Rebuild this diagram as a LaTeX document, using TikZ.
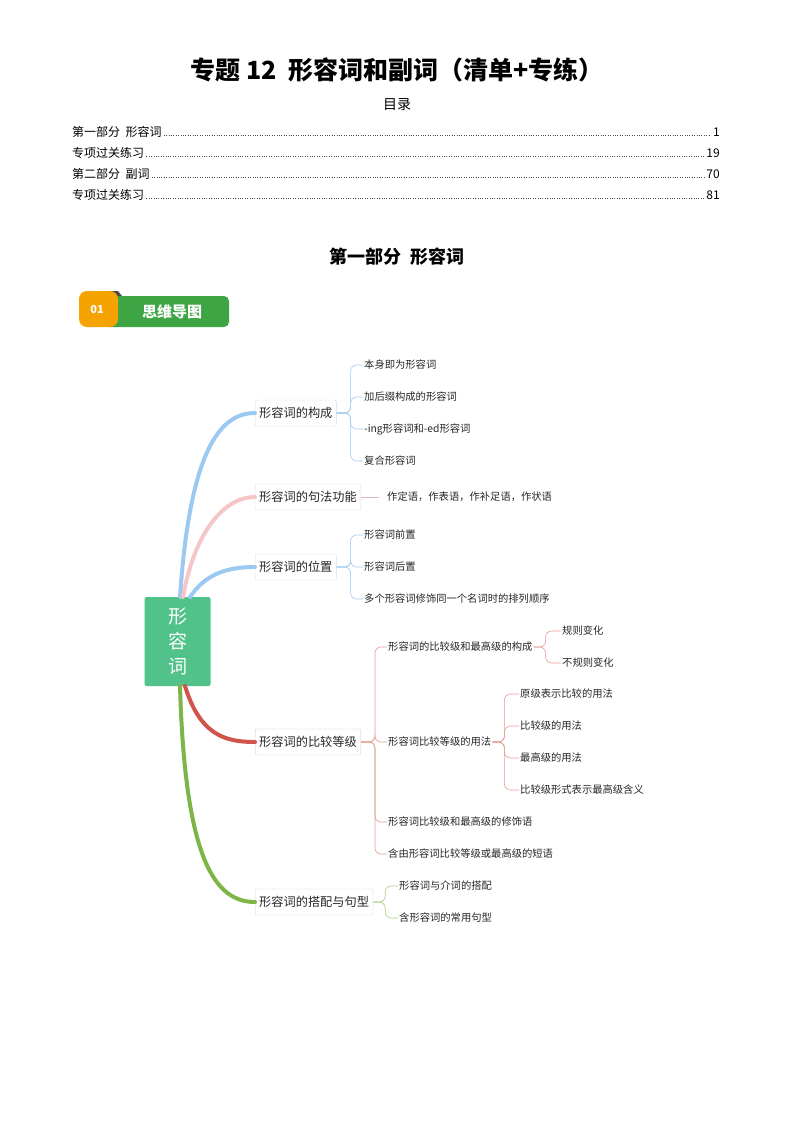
\documentclass[tikz,border=0pt]{standalone}
\usepackage{fontspec}
\setmainfont{Noto Sans CJK SC}
\usetikzlibrary{calc}
\definecolor{rootg}{HTML}{52C28B}
\definecolor{cb}{HTML}{9CC9F2}
\definecolor{cp}{HTML}{F5C6C6}
\definecolor{cr}{HTML}{D0544A}
\definecolor{cg}{HTML}{7DB548}
\definecolor{badgeg}{HTML}{3DA543}
\definecolor{badgeo}{HTML}{F5A300}
\tikzset{
  branch/.style={draw=#1!60!gray!40, rounded corners=2pt, fill=white, font=\fontsize{12.2}{13}\selectfont, inner xsep=4pt, minimum height=26pt, anchor=west, text=black!85},
  leaf/.style={font=\fontsize{10.3}{11}\selectfont, inner sep=1pt, anchor=west, text=black!85},
  mainline/.style={line width=4pt, line cap=round},
  sub/.style={draw=#1, line width=0.6pt, rounded corners=6pt},
  toc/.style={font=\fontsize{12}{13}\selectfont, inner sep=0pt}
}
\begin{document}
\begin{tikzpicture}[x=1pt,y=-1pt]
\useasboundingbox (0,0) rectangle (794,1123);
% title
\node[font=\fontsize{25}{28}\selectfont\bfseries] (title) at (397,70) {专题 12\ \ 形容词和副词（清单+专练）};
\node[font=\fontsize{14}{15}\selectfont] (mulu) at (397,105) {目录};
\foreach \t/\p/\y [count=\i] in {第一部分\ \ 形容词/1/132, 专项过关练习/19/153, 第二部分\ \ 副词/70/174, 专项过关练习/81/195}{
  \node[toc, anchor=west] (tl\i) at (72,\y) {\t};
  \node[toc, anchor=east] (tp\i) at (720,\y) {\p};
  \draw[dotted, black!70] ($(tl\i.east)+(2,3)$) -- ($(tp\i.west)+(-2,3)$);
}
\node[font=\fontsize{18}{20}\selectfont\bfseries] (part1) at (397,257) {第一部分\ \ 形容词};
% badge
\fill[badgeg, rounded corners=5pt] (104,296) rectangle (229,327);
\fill[black!70] (110,291) -- (118,291) -- (122,296) -- (110,296) -- cycle;
\fill[badgeo, rounded corners=8pt] (79,291) rectangle (118,327);
\node[text=white, font=\fontsize{11}{12}\selectfont\bfseries] (b01) at (97,310) {01};
\node[text=white, font=\fontsize{15}{16}\selectfont\bfseries] (bt) at (172,312) {思维导图};
% root
\node[fill=rootg, rounded corners=2pt, minimum width=66pt, minimum height=89pt, text=white, font=\fontsize{19}{25}\selectfont, align=center] (root) at (177.5,641.5) {形\\容\\词};
% branches
\node[branch=cb] (b1) at (255,413) {形容词的构成};
\node[branch=cp] (b2) at (255,497) {形容词的句法功能};
\node[branch=cb] (b3) at (255,567) {形容词的位置};
\node[branch=cr] (b4) at (255,742) {形容词的比较等级};
\node[branch=cg] (b5) at (255,902) {形容词的搭配与句型};
\draw[mainline, cb] (180,597) .. controls (190,450) and (220,413) .. (b1.west);
\draw[mainline, cp] (183,597) .. controls (195,530) and (225,497) .. (b2.west);
\draw[mainline, cb] (190,597) .. controls (205,575) and (225,567) .. (b3.west);
\draw[mainline, cr] (185,686) .. controls (200,735) and (225,742) .. (b4.west);
\draw[mainline, cg] (180,686) .. controls (185,860) and (215,902) .. (b5.west);
% leaves 1
\foreach \t/\y [count=\i] in {本身即为形容词/365, 加后缀构成的形容词/397, -ing形容词和-ed形容词/429, 复合形容词/461}{
  \node[leaf] (l1\i) at (363,\y) {\t};
  \draw[sub=cb] (b1.east) -- ++(14,0) |- (l1\i.west);
}
\node[leaf] (l21) at (386,497) {作定语，作表语，作补足语，作状语};
\draw[sub=cp!80!gray] (b2.east) -- ++(18,0);
\foreach \t/\y [count=\i] in {形容词前置/535, 形容词后置/567, 多个形容词修饰同一个名词时的排列顺序/599}{
  \node[leaf] (l3\i) at (363,\y) {\t};
  \draw[sub=cb] (b3.east) -- ++(14,0) |- (l3\i.west);
}
\foreach \t/\y [count=\i] in {形容词的比较级和最高级的构成/647, 形容词比较等级的用法/742, 形容词比较级和最高级的修饰语/822, 含由形容词比较等级或最高级的短语/854}{
  \node[leaf] (l4\i) at (387,\y) {\t};
  \draw[sub=cr!60] (b4.east) -- ++(14,0) |- (l4\i.west);
}
\foreach \t/\y [count=\i] in {规则变化/631, 不规则变化/663}{
  \node[leaf] (m\i) at (561,\y) {\t};
  \draw[sub=cr!60] (l41.east) -- ++(12,0) |- (m\i.west);
}
\foreach \t/\y [count=\i] in {原级表示比较的用法/694, 比较级的用法/726, 最高级的用法/758, 比较级形式表示最高级含义/790}{
  \node[leaf] (n\i) at (519,\y) {\t};
  \draw[sub=cr!60] (l42.east) -- ++(12,0) |- (n\i.west);
}
\foreach \t/\y [count=\i] in {形容词与介词的搭配/886, 含形容词的常用句型/918}{
  \node[leaf] (l5\i) at (398,\y) {\t};
  \draw[sub=cg!70] (b5.east) -- ++(12,0) |- (l5\i.west);
}
\end{tikzpicture}
\end{document}
